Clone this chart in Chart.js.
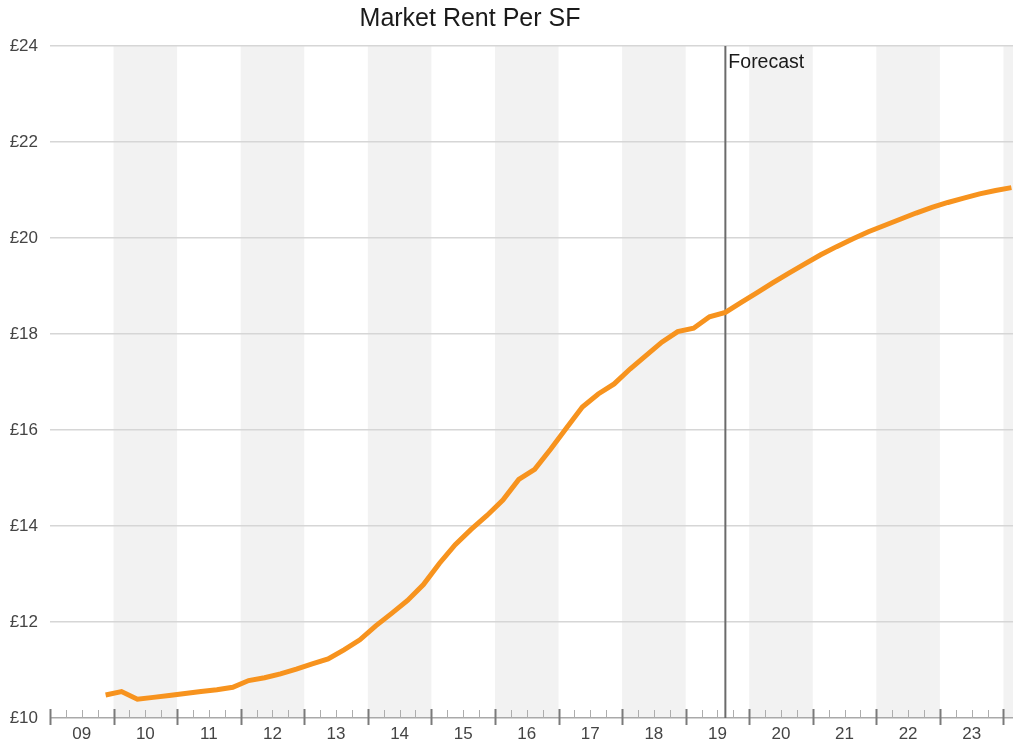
<!DOCTYPE html>
<html>
<head>
<meta charset="utf-8">
<title>Market Rent Per SF</title>
<script src="https://cdn.jsdelivr.net/npm/chart.js@4"></script>
<style>
  body { margin: 0; background: #fff; }
  #wrap { width: 1013px; height: 744px; }
</style>
</head>
<body>
<div id="wrap"><canvas id="rentChart" width="1013" height="744"></canvas></div>
<script>
// Quarterly market rent (GBP per sq ft), history then forecast
const quarters = [
  "2009Q4",
  "2010Q1", "2010Q2", "2010Q3", "2010Q4",
  "2011Q1", "2011Q2", "2011Q3", "2011Q4",
  "2012Q1", "2012Q2", "2012Q3", "2012Q4",
  "2013Q1", "2013Q2", "2013Q3", "2013Q4",
  "2014Q1", "2014Q2", "2014Q3", "2014Q4",
  "2015Q1", "2015Q2", "2015Q3", "2015Q4",
  "2016Q1", "2016Q2", "2016Q3", "2016Q4",
  "2017Q1", "2017Q2", "2017Q3", "2017Q4",
  "2018Q1", "2018Q2", "2018Q3", "2018Q4",
  "2019Q1", "2019Q2", "2019Q3", "2019Q4",
  "2020Q1", "2020Q2", "2020Q3", "2020Q4",
  "2021Q1", "2021Q2", "2021Q3", "2021Q4",
  "2022Q1", "2022Q2", "2022Q3", "2022Q4",
  "2023Q1", "2023Q2", "2023Q3", "2023Q4",
  "2024Q1"
];

const rentValues = [
  10.48,
  10.55, 10.39, 10.43, 10.47,
  10.51, 10.55, 10.59, 10.64,
  10.78, 10.84, 10.92, 11.02,
  11.13, 11.23, 11.42, 11.63,
  11.92, 12.18, 12.45, 12.78,
  13.22, 13.61, 13.93, 14.22,
  14.54, 14.97, 15.18, 15.60,
  16.04, 16.48, 16.75, 16.96,
  17.27, 17.55, 17.83, 18.05,
  18.12, 18.36, 18.45, 18.66,
  18.86, 19.07, 19.27, 19.46,
  19.65, 19.82, 19.98, 20.13,
  20.26, 20.39, 20.52, 20.64,
  20.74, 20.83, 20.92, 20.99,
  21.05
];

const yearLabels = ["09", "10", "11", "12", "13", "14", "15", "16", "17", "18", "19", "20", "21", "22", "23"];
const rentTicks = [10, 12, 14, 16, 18, 20, 22, 24];
const forecastStart = "2019Q3";

const firstYear = 2009;
const lastX = 2024.15;
const fontFamily = "'Liberation Sans', Arial, sans-serif";

// "2015Q2" -> middle of that quarter as a decimal year
function quarterToX(q) {
  const year = parseInt(q.slice(0, 4), 10);
  const n = parseInt(q.slice(5), 10);
  return year + (n - 1) / 4 + 0.125;
}

const points = quarters.map(function (q, i) {
  return { x: quarterToX(q), y: rentValues[i] };
});

// Shaded even years, axis tick marks, forecast divider and text
const decorations = {
  id: "decorations",
  beforeDraw(chart) {
    const ctx = chart.ctx;
    const area = chart.chartArea;
    const x = chart.scales.x;
    ctx.save();
    ctx.fillStyle = "#f2f2f2";
    for (let year = firstYear + 1; year < lastX; year += 2) {
      const left = x.getPixelForValue(year);
      const right = x.getPixelForValue(Math.min(year + 1, lastX));
      ctx.fillRect(left, area.top, right - left, area.bottom - area.top);
    }
    ctx.restore();
  },
  beforeDatasetsDraw(chart) {
    const ctx = chart.ctx;
    const area = chart.chartArea;
    const px = chart.scales.x.getPixelForValue(quarterToX(forecastStart));
    ctx.save();
    ctx.strokeStyle = "#6b6b6b";
    ctx.lineWidth = 2;
    ctx.beginPath();
    ctx.moveTo(px, area.top);
    ctx.lineTo(px, area.bottom);
    ctx.stroke();
    ctx.restore();
  },
  afterDraw(chart) {
    const ctx = chart.ctx;
    const area = chart.chartArea;
    const x = chart.scales.x;
    ctx.save();

    // quarter ticks sit above the axis, year ticks cross it
    for (let t = firstYear; t <= lastX; t += 0.25) {
      const px = Math.round(x.getPixelForValue(t)) + 0.5;
      const major = Math.abs(t - Math.round(t)) < 0.001;
      ctx.beginPath();
      if (major) {
        ctx.strokeStyle = "#7a7a7a";
        ctx.lineWidth = 2;
        ctx.moveTo(px, area.bottom - 9);
        ctx.lineTo(px, area.bottom + 7);
      } else {
        ctx.strokeStyle = "#adadad";
        ctx.lineWidth = 1;
        ctx.moveTo(px, area.bottom - 8);
        ctx.lineTo(px, area.bottom);
      }
      ctx.stroke();
    }

    ctx.fillStyle = "#1a1a1a";
    ctx.textBaseline = "middle";
    ctx.textAlign = "center";
    ctx.font = "25px " + fontFamily;
    ctx.fillText("Market Rent Per SF", 470, 19);

    const fx = x.getPixelForValue(quarterToX(forecastStart));
    ctx.textAlign = "left";
    ctx.font = "19.5px " + fontFamily;
    ctx.fillText("Forecast", fx + 3, area.top + 17);
    ctx.restore();
  }
};

const rentChart = document.getElementById("rentChart");

new Chart(rentChart, {
  type: "line",
  data: {
    datasets: [
      {
        label: "Market Rent Per SF",
        data: points,
        borderColor: "#f7931e",
        borderWidth: 5,
        pointRadius: 0,
        tension: 0,
        fill: false
      }
    ]
  },
  options: {
    responsive: false,
    animation: false,
    layout: {
      padding: { top: 46, right: 0, bottom: 0, left: 0 }
    },
    plugins: {
      legend: { display: false },
      tooltip: { enabled: false },
      title: { display: false }
    },
    scales: {
      x: {
        type: "linear",
        min: firstYear,
        max: lastX,
        afterBuildTicks(scale) {
          scale.ticks = yearLabels.map(function (label, i) {
            return { value: firstYear + i + 0.5 };
          });
        },
        afterFit(scale) {
          scale.height = 26;
        },
        grid: { display: false, drawTicks: false },
        border: { display: false },
        ticks: {
          autoSkip: false,
          maxRotation: 0,
          padding: 6,
          color: "#444",
          font: { family: fontFamily, size: 17 },
          callback: function (value, index) {
            return yearLabels[index];
          }
        }
      },
      y: {
        min: 10,
        max: 24,
        afterBuildTicks(scale) {
          scale.ticks = rentTicks.map(function (v) {
            return { value: v };
          });
        },
        afterFit(scale) {
          scale.width = 50;
        },
        grid: {
          drawTicks: false,
          lineWidth: 1.5,
          color: function (ctx) {
            return ctx.tick && ctx.tick.value === 10 ? "#a9a9a9" : "#d6d6d6";
          }
        },
        border: { display: false },
        ticks: {
          padding: 12,
          color: "#444",
          font: { family: fontFamily, size: 17 },
          callback: function (value) {
            return "£" + value;
          }
        }
      }
    }
  },
  plugins: [decorations]
});
</script>
</body>
</html>
